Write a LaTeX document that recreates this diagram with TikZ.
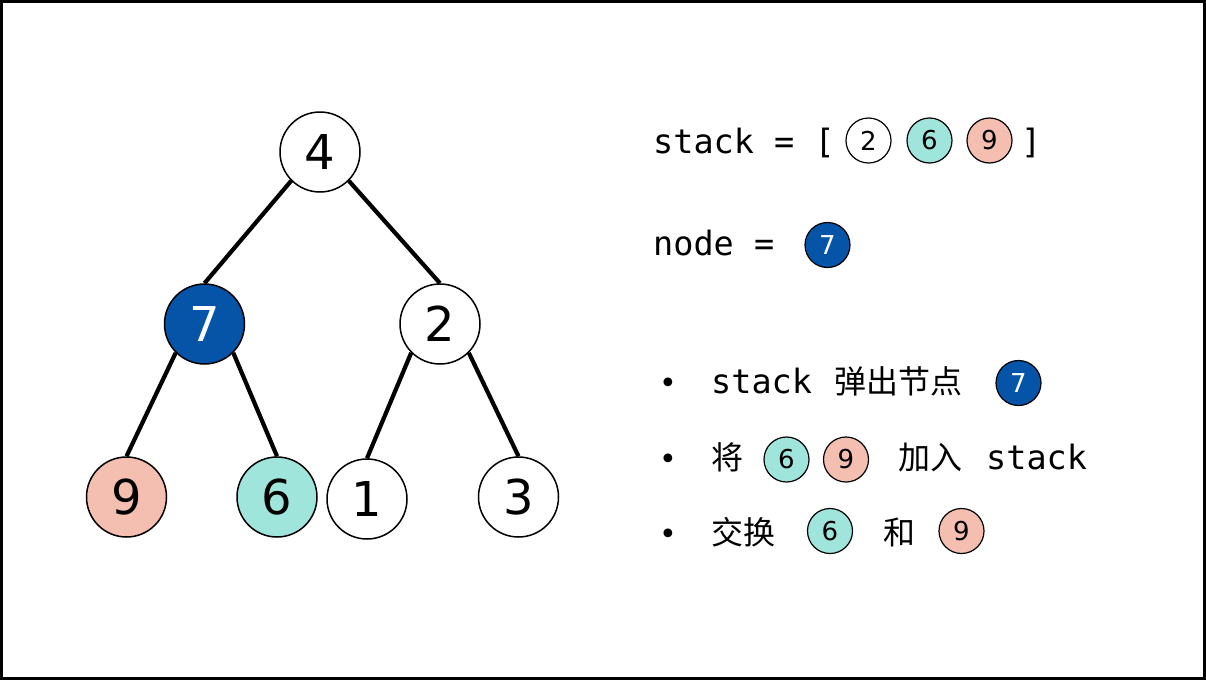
\documentclass[tikz,border=0pt]{standalone}
\usepackage{fontspec}
\setmainfont{DejaVu Sans}
\newfontfamily\codefont{DejaVu Sans Mono}
\newfontfamily\cjkfont{Noto Sans CJK SC}
\usetikzlibrary{positioning}
\definecolor{popblue}{HTML}{0554A7}
\definecolor{pushteal}{HTML}{A0E5DB}
\definecolor{pushpink}{HTML}{F4BFB1}

\begin{document}
\begin{tikzpicture}[x=1pt,y=-1pt,
      vert/.style={circle,draw,line width=1.5pt,minimum size=80pt,inner sep=0pt,
        fill=white,font=\fontsize{48}{50}\selectfont},
      mini/.style={circle,draw,line width=1.2pt,minimum size=45pt,inner sep=0pt,
        fill=white,font=\fontsize{26}{28}\selectfont},
      code/.style={anchor=base west,inner sep=0pt,font=\codefont\fontsize{33.5}{36}\selectfont},
      cjk/.style={anchor=base west,inner sep=0pt,font=\cjkfont\fontsize{32}{34}\selectfont},
      dot/.style={anchor=base,inner sep=0pt,font=\fontsize{30}{32}\selectfont},
      edge/.style={line width=4.2pt}]
    \useasboundingbox (0,0) rectangle (1206,680);
    \draw[line width=3pt] (1.5,1.5) rectangle (1204.5,678.5);
    % tree
    \node[vert](n4) at (320,152){4};
    \node[vert,fill=popblue,text=white](n7) at (204.5,324){7};
    \node[vert](n2) at (440,324){2};
    \node[vert,fill=pushpink](n9) at (126.5,497){9};
    \node[vert,fill=pushteal](n6) at (277,497){6};
    \node[vert](n1) at (367,499){1};
    \node[vert](n3) at (518.5,497){3};
    \foreach \p/\c in {n4/n7,n7/n9,n2/n1}{\draw[edge] (\p.south west) -- (\c.north);}
    \foreach \p/\c in {n4/n2,n7/n6,n2/n3}{\draw[edge] (\p.south east) -- (\c.north);}
    % stack and node
    \node[code](stk) at (653,153){stack = [};
    \node[mini](s2) at (868.5,140.5){2};
    \node[mini,fill=pushteal](s6) at (929.5,140.5){6};
    \node[mini,fill=pushpink](s9) at (989.5,140.5){9};
    \node[code](rb) at (1021,153){]};
    \node[code](nd) at (653,255){node =};
    \node[mini,fill=popblue,text=white](c7) at (827.5,245){7};
    % steps
    \foreach \y in {393,469,544}{\node[dot] at (668,\y){•};}
    \node[code](t1) at (711,393){stack};
    \node[cjk](t2) at (834,393){弹出节点};
    \node[mini,fill=popblue,text=white](b7) at (1018.5,383){7};
    \node[cjk](t3) at (711,469){将};
    \node[mini,fill=pushteal](b6) at (786.5,459.5){6};
    \node[mini,fill=pushpink](b9) at (846,459.5){9};
    \node[cjk](t4) at (898,469){加入};
    \node[code](t5) at (986,469){stack};
    \node[cjk](t6) at (711,544){交换};
    \node[mini,fill=pushteal](e6) at (830,531){6};
    \node[cjk](t7) at (883,544){和};
    \node[mini,fill=pushpink](e9) at (961.5,531){9};
  \end{tikzpicture}
\end{document}
